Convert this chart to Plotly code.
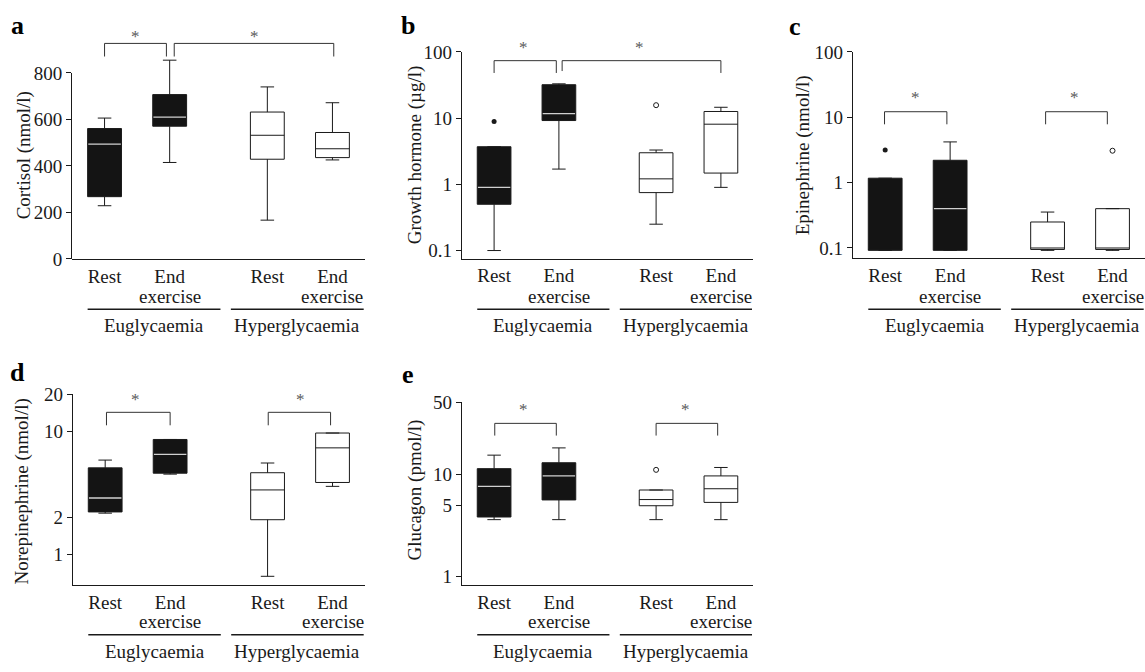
import plotly.graph_objects as go

W, H = 1145, 672

# ---------------- data ----------------
positions = [0.5, 1.5, 3.0, 4.0]
tick_text = ["Rest", "End", "Rest", "End"]
group_names = ["Euglycaemia", "Hyperglycaemia"]

# a  Cortisol (nmol/l)
cort_q1 = [268, 571, 429, 436]
cort_med = [494, 610, 532, 474]
cort_q3 = [561, 707, 632, 544]
cort_lo = [229, 415, 167, 426]
cort_hi = [606, 855, 740, 672]
cort_out_eu = []          # (position index, value)
cort_out_hy = []

# b  Growth hormone (µg/l)
gh_q1 = [0.50, 9.2, 0.75, 1.48]
gh_med = [0.90, 11.7, 1.21, 8.1]
gh_q3 = [3.7, 32.0, 3.0, 12.6]
gh_lo = [0.10, 1.7, 0.25, 0.90]
gh_hi = [3.7, 33.0, 3.3, 14.6]
gh_out_eu = [(0, 8.9)]
gh_out_hy = [(2, 15.7)]

# c  Epinephrine (nmol/l)
epi_q1 = [0.092, 0.092, 0.095, 0.095]
epi_med = [0.092, 0.40, 0.10, 0.10]
epi_q3 = [1.17, 2.2, 0.25, 0.40]
epi_lo = [0.092, 0.092, 0.092, 0.092]
epi_hi = [1.17, 4.2, 0.355, 0.40]
epi_out_eu = [(0, 3.15)]
epi_out_hy = [(3, 3.08)]

# d  Norepinephrine (nmol/l)
ne_q1 = [2.22, 4.58, 1.92, 3.85]
ne_med = [2.88, 6.5, 3.35, 7.35]
ne_q3 = [5.06, 8.6, 4.62, 9.7]
ne_lo = [2.17, 4.5, 0.667, 3.58]
ne_hi = [5.85, 8.6, 5.54, 9.7]
ne_out_eu = [(1, 20.0)]
ne_out_hy = [(3, 27.5)]

# e  Glucagon (pmol/l)
glu_q1 = [3.82, 5.6, 4.92, 5.3]
glu_med = [7.6, 9.6, 5.65, 7.2]
glu_q3 = [11.3, 12.9, 7.0, 9.6]
glu_lo = [3.6, 3.6, 3.6, 3.6]
glu_hi = [15.3, 18.0, 7.0, 11.6]
glu_out_eu = []
glu_out_hy = [(2, 11.0)]

panels = [
    dict(letter="a", title="Cortisol (nmol/l)", q1=cort_q1, med=cort_med, q3=cort_q3,
         lo=cort_lo, hi=cort_hi, out_eu=cort_out_eu, out_hy=cort_out_hy,
         log=False, yrange=[0, 870], yline_top=800, tickvals=[0, 200, 400, 600, 800],
         ticktext=["0", "200", "400", "600", "800"],
         box_px=(72, 365, 48.2, 257), title_px=(24, 150), letter_px=(17, 16),
         brackets=[(0.5, 1.45, 34.5, 48, 48, 0.97, 25), (1.57, 4.02, 34.5, 48, 48, 2.8, 25)],
         row=0),
    dict(letter="b", title="Growth hormone (µg/l)", q1=gh_q1, med=gh_med, q3=gh_q3,
         lo=gh_lo, hi=gh_hi, out_eu=gh_out_eu, out_hy=gh_out_hy,
         log=True, yrange=[-1.123, 2], yline_top=None, tickvals=[0.1, 1, 10, 100],
         ticktext=["0.1", "1", "10", "100"],
         box_px=(461.7, 753.3, 43.3, 256.7), title_px=(415, 150), letter_px=(408, 16),
         brackets=[(0.5, 1.46, 52.3, 65, 65, 0.96, 37), (1.55, 4.0, 52.3, 63, 65, 2.74, 37)],
         row=0),
    dict(letter="c", title="Epinephrine (nmol/l)", q1=epi_q1, med=epi_med, q3=epi_q3,
         lo=epi_lo, hi=epi_hi, out_eu=epi_out_eu, out_hy=epi_out_hy,
         log=True, yrange=[-1.153, 2], yline_top=None, tickvals=[0.1, 1, 10, 100],
         ticktext=["0.1", "1", "10", "100"],
         box_px=(852.7, 1145, 43.3, 256), title_px=(803, 150), letter_px=(795, 17),
         brackets=[(0.49, 1.45, 105, 118, 118, 0.97, 88), (2.97, 3.92, 105, 118, 118, 3.42, 88)],
         row=0),
    dict(letter="d", title="Norepinephrine (nmol/l)", q1=ne_q1, med=ne_med, q3=ne_q3,
         lo=ne_lo, hi=ne_hi, out_eu=ne_out_eu, out_hy=ne_out_hy,
         log=True, yrange=[-0.25, 1.301], yline_top=None, tickvals=[1, 2, 10, 20],
         ticktext=["1", "2", "10", "20"],
         box_px=(72.7, 365, 396.7, 594), title_px=(22, 497), letter_px=(17, 374),
         brackets=[(0.52, 1.5, 415.3, 428.7, 428.7, 0.97, 400), (3.01, 3.97, 415.3, 428.7, 428.7, 3.5, 400)],
         row=1),
    dict(letter="e", title="Glucagon (pmol/l)", q1=glu_q1, med=glu_med, q3=glu_q3,
         lo=glu_lo, hi=glu_hi, out_eu=glu_out_eu, out_hy=glu_out_hy,
         log=True, yrange=[-0.078, 1.699], yline_top=None, tickvals=[1, 5, 10, 50],
         ticktext=["1", "5", "10", "50"],
         box_px=(461.7, 753.3, 405, 593.3), title_px=(414, 496), letter_px=(408, 376),
         brackets=[(0.51, 1.46, 426.7, 439.3, 439.3, 0.96, 410), (3.0, 3.95, 426.7, 439.3, 439.3, 3.45, 410)],
         row=1),
]

FONT = "Liberation Serif"
INK = "#1a1a1a"
FS = 19
BOX_W = 0.52

def px_x(v):
    return v / W

def px_y(v):
    return 1 - v / H

fig = go.Figure()
shapes = []
annotations = []
layout = {}

for i, p in enumerate(panels):
    n = "" if i == 0 else str(i + 1)
    xa, ya = "x" + n, "y" + n
    x0, x1, yt, yb = p["box_px"]
    own_line = p["yline_top"] is not None

    layout["xaxis" + n] = dict(
        domain=[px_x(x0), px_x(x1)], range=[0, 4.5], anchor=ya,
        showline=True, linecolor=INK, linewidth=1, ticks="", showgrid=False,
        zeroline=False, tickvals=positions, ticktext=tick_text,
        tickfont=dict(family=FONT, size=FS, color=INK), ticklabelstandoff=0,
    )
    layout["yaxis" + n] = dict(
        domain=[px_y(yb), px_y(yt)], range=p["yrange"], anchor=xa,
        type="log" if p["log"] else "linear",
        showline=not own_line, linecolor=INK, linewidth=1, ticks="outside", ticklen=5,
        tickcolor=INK, showgrid=False, zeroline=False,
        tickvals=p["tickvals"], ticktext=p["ticktext"],
        tickfont=dict(family=FONT, size=FS, color=INK),
    )
    if own_line:
        # visible y-axis line stops at the top tick, data may extend above it
        shapes.append(dict(type="line", xref="paper", yref=ya,
                           x0=px_x(x0) - 0.5 / W, x1=px_x(x0) - 0.5 / W,
                           y0=p["yrange"][0], y1=p["yline_top"],
                           line=dict(color=INK, width=1)))

    # boxes: euglycaemia (filled black), hyperglycaemia (white)
    for sl, fill in ((slice(0, 2), "#141414"), (slice(2, 4), "white")):
        fig.add_trace(go.Box(
            x=positions[sl], q1=p["q1"][sl], median=p["med"][sl], q3=p["q3"][sl],
            lowerfence=p["lo"][sl], upperfence=p["hi"][sl],
            width=BOX_W, whiskerwidth=0.4, fillcolor=fill,
            line=dict(color=INK, width=1), boxpoints=False,
            xaxis=xa, yaxis=ya, showlegend=False, hoverinfo="skip",
        ))
    # light median line on the black boxes (only where it lies inside the box)
    mx, my = [], []
    for k in range(2):
        if p["med"][k] > p["q1"][k]:
            mx += [positions[k] - BOX_W / 2 + 0.01, positions[k] + BOX_W / 2 - 0.01, None]
            my += [p["med"][k], p["med"][k], None]
    if mx:
        fig.add_trace(go.Scatter(x=mx, y=my, mode="lines", line=dict(color="#d0d0d0", width=1.3),
                                 xaxis=xa, yaxis=ya, showlegend=False, hoverinfo="skip"))
    # outliers
    if p["out_eu"]:
        fig.add_trace(go.Scatter(
            x=[positions[k] for k, v in p["out_eu"]], y=[v for k, v in p["out_eu"]],
            mode="markers", marker=dict(color=INK, size=5), cliponaxis=False,
            xaxis=xa, yaxis=ya, showlegend=False, hoverinfo="skip"))
    if p["out_hy"]:
        fig.add_trace(go.Scatter(
            x=[positions[k] for k, v in p["out_hy"]], y=[v for k, v in p["out_hy"]],
            mode="markers", marker=dict(color="white", size=5, line=dict(color=INK, width=1)),
            cliponaxis=False, xaxis=xa, yaxis=ya, showlegend=False, hoverinfo="skip"))

    # significance brackets
    for (bx0, bx1, btop, bl, br, sx, sy) in p["brackets"]:
        path = "M %f,%f L %f,%f L %f,%f L %f,%f" % (
            bx0, px_y(bl), bx0, px_y(btop), bx1, px_y(btop), bx1, px_y(br))
        shapes.append(dict(type="path", path=path, xref=xa, yref="paper",
                           line=dict(color="#333333", width=1)))
        annotations.append(dict(text="*", x=sx, y=px_y(sy + 2), xref=xa, yref="paper",
                                showarrow=False, font=dict(family=FONT, size=17, color="#5a5a5a"),
                                xanchor="center", yanchor="middle"))

    # second line of category labels
    ex_y = 296 if p["row"] == 0 else 631
    for k in (1, 3):
        annotations.append(dict(text="exercise", x=positions[k], y=px_y(ex_y), xref=xa, yref="paper",
                                showarrow=False, font=dict(family=FONT, size=FS, color=INK),
                                xanchor="center", yanchor="middle"))
    # group underline and names
    line_y = 309 if p["row"] == 0 else 645
    name_y = 326 if p["row"] == 0 else 662
    for (gx0, gx1), name in zip(((0.24, 2.28), (2.44, 4.48)), group_names):
        shapes.append(dict(type="line", x0=gx0, x1=gx1, y0=px_y(line_y), y1=px_y(line_y),
                           xref=xa, yref="paper", line=dict(color=INK, width=1.5)))
        annotations.append(dict(text=name, x=(gx0 + gx1) / 2, y=px_y(name_y), xref=xa, yref="paper",
                                showarrow=False, font=dict(family=FONT, size=FS, color=INK),
                                xanchor="center", yanchor="middle"))
    # y axis title
    tx, ty = p["title_px"]
    annotations.append(dict(text=p["title"], x=px_x(tx), y=px_y(ty), xref="paper", yref="paper",
                            textangle=-90, showarrow=False,
                            font=dict(family=FONT, size=FS, color=INK),
                            xanchor="center", yanchor="middle"))
    # panel letter
    lx, ly = p["letter_px"]
    annotations.append(dict(text="<b>%s</b>" % p["letter"], x=px_x(lx), y=px_y(ly),
                            xref="paper", yref="paper", showarrow=False,
                            font=dict(family=FONT, size=26, color="#000000"),
                            xanchor="center", yanchor="middle"))

fig.update_layout(
    width=W, height=H, margin=dict(l=0, r=0, t=0, b=0),
    paper_bgcolor="white", plot_bgcolor="white",
    shapes=shapes, annotations=annotations, showlegend=False,
    **layout,
)

fig.write_html("out.html")
